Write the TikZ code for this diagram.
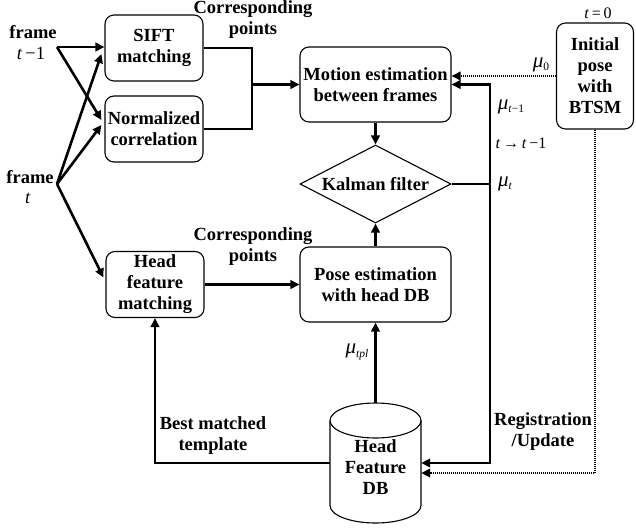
\documentclass[tikz,border=0pt]{standalone}
\usepackage{fontspec}
\setmainfont{Liberation Serif}
\usetikzlibrary{arrows.meta,shapes.geometric}
\newcommand\fsz{\fontsize{18.5}{21}\selectfont}
\newcommand\msub[1]{\raisebox{-0.4ex}{\fontsize{11.5}{12}\selectfont #1}}
\newcommand\mmu{{\fontsize{21}{21}\selectfont\itshape μ}}
\begin{document}
\begin{tikzpicture}[x=1pt,y=-1pt,
  box/.style={draw, line width=1.1pt, rounded corners=9pt, align=center, font=\bfseries\fsz, inner sep=0pt},
  lbl/.style={align=center, font=\bfseries\fsz, inner sep=0pt},
  mlbl/.style={inner sep=0pt, font=\fsz},
  wire/.style={line width=2.6pt},
  conn/.style={line width=2.6pt, -{Triangle[length=9pt,width=8.5pt]}},
  dotc/.style={line width=2.8pt, dash pattern=on 1.3pt off 0.7pt, -{Triangle[length=9pt,width=8.5pt]}}]
\useasboundingbox (0,0) rectangle (636,527);

% boxes
\node[box, minimum width=98pt, minimum height=66pt] (sift) at (154,48) {SIFT\\matching};
\node[box, minimum width=98pt, minimum height=66pt] (norm) at (154,129) {Normalized\\correlation};
\node[box, minimum width=98pt, minimum height=66pt] (head) at (155,284.5) {Head\\feature\\matching};
\node[box, minimum width=151pt, minimum height=75pt] (motion) at (375.5,84.5) {Motion estimation\\between frames};
\node[box, minimum width=151pt, minimum height=75pt] (pose) at (375.5,284.5) {Pose estimation\\with head DB};
\node[draw, diamond, line width=1.1pt, minimum width=151pt, minimum height=78pt, inner sep=0pt] (kal) at (375.5,184) {};
\node[lbl] (kaltxt) at (kal.center) {Kalman filter};
\node[box, minimum width=77pt, minimum height=106pt] (init) at (595,76) {Initial\\pose\\with\\BTSM};

% database cylinder
\node[minimum width=91pt, minimum height=120pt, inner sep=0pt, align=center, font=\bfseries\fsz] (db) at (375.5,463) {\\Head\\Feature\\DB};
\draw[line width=1.1pt] (330,420.5) -- (330,505.5) arc[start angle=180, end angle=0, x radius=45.5, y radius=17.5] -- (421,420.5);
\draw[line width=1.1pt] (375.5,420.5) ellipse [x radius=45.5, y radius=17.5];

% frame labels
\node[lbl] (f1) at (33,32) {frame};
\node[mlbl] (f1t) at (31,53) {\textit{t}\,−1};
\node[lbl] (f2) at (30,177) {frame};
\node[mlbl] (f2t) at (28,198) {\textit{t}};
\coordinate (ftm1) at (57,47);
\coordinate (ft) at (57,184);

% frame arrows
\draw[conn] (ftm1) -- (ftm1 -| sift.west);
\draw[conn] (ftm1) -- ([xshift=-3pt,yshift=9pt]norm.west);
\draw[conn] (ft) -- ([xshift=-3pt,yshift=-6pt]sift.west);
\draw[conn] (ft) -- ([xshift=-3pt,yshift=4pt]norm.west);
\draw[conn] (ft) -- ([xshift=-2pt,yshift=7pt]head.west);

% merge into motion estimation
\coordinate (mj) at (252,84.5);
\draw[wire] (sift.east) -| (mj);
\draw[wire] (norm.east) -| (mj);
\draw[conn] (mj) -- (motion.west);
\node[lbl] (cp1) at (253,20) {Corresponding\\points};

% vertical chain
\draw[conn] (motion.south) -- (kal.north);
\draw[conn] (pose.north) -- (kal.south);
\draw[conn] (head.east) -- (pose.west);
\node[lbl] (cp2) at (253,247) {Corresponding\\points};

% Kalman feedback
\coordinate (kj) at (490,184);
\draw[wire] (kal.east) -- (kj);
\draw[conn] (kj) |- (motion.east);
\draw[conn] (kj) |- (db.east);

% initial pose
\draw[dotc] (init.west) -- (init.west -| motion.east);
\draw[dotc] (init.south) |- ([yshift=-10pt]db.east);

% database links
\draw[conn] (db.north) -- (pose.south);
\draw[conn] (db.west) -| (head.south);

% math labels
\node[mlbl] (m0) at (541,65) {\mmu\msub{0}};
\node[mlbl] (mtm1) at (511,107) {\mmu\msub{\textit{t}−1}};
\node[mlbl] (tt) at (521,143) {\fontsize{16}{18}\selectfont\textit{t}\,→\,\textit{t}\,−1};
\node[mlbl] (mt) at (505,184) {\mmu\msub{\textit{t}}};
\node[mlbl] (mtpl) at (357,352) {\mmu\msub{\textit{tpl}}};
\node[mlbl] (t0) at (598,13) {\fontsize{16}{18}\selectfont\textit{t}\,=\,0};

% text labels
\node[lbl] (bmt) at (213,436) {Best matched\\template};
\node[lbl] (reg) at (543,432) {Registration\\/Update};
\end{tikzpicture}
\end{document}
